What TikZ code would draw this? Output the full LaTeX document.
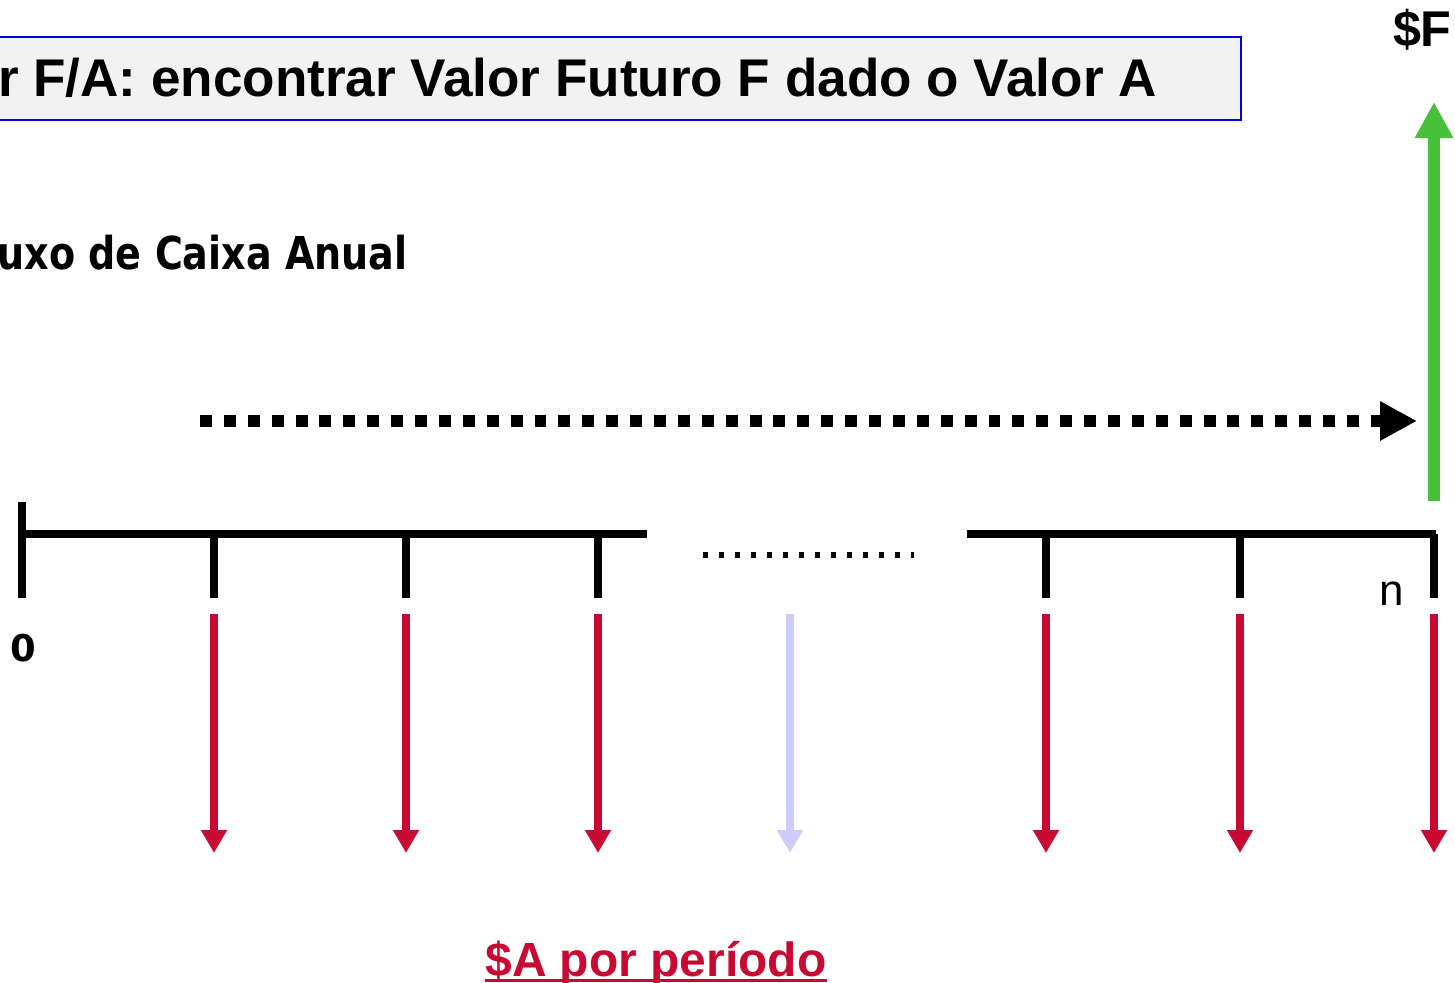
\documentclass[tikz,border=0pt]{standalone}
\usepackage{fontspec}
\usetikzlibrary{arrows.meta, positioning}
\newfontfamily\lsans{Liberation Sans}
\newfontfamily\dvsans{DejaVu Sans}
\newfontfamily\dvcond{DejaVu Sans}[FakeStretch=0.84]
\definecolor{payred}{RGB}{200,10,50}
\definecolor{paylight}{RGB}{204,204,255}
\definecolor{futgreen}{RGB}{72,192,58}
\definecolor{boxblue}{RGB}{0,0,225}
\definecolor{boxgray}{RGB}{242,242,242}
\tikzset{
	axisline/.style={line width=4.5pt},
	tickline/.style={line width=4pt},
	pay/.style={payred, line width=4.2pt, -{Triangle[length=13pt,width=14pt]}},
	paylt/.style={pay, paylight},
	label/.style={inner sep=0pt, text=black},
}

\begin{document}
\begin{tikzpicture}[x=0.02cm, y=-0.02cm]
	     \useasboundingbox (0,0) rectangle (1455,983);
	     \clip (0,0) rectangle (1455,983);

	     % title %
		 \draw[boxblue, fill=boxgray, line width=1.2pt] (-20,37) rectangle (1241,120);
		 \node[label, anchor=base east, font=\lsans\bfseries\fontsize{30.2}{33}\selectfont] (title) at (1157,97) {r F/A: encontrar Valor Futuro F dado o Valor A};
		 \node[label, anchor=base east, font=\dvcond\bfseries\fontsize{25.8}{30}\selectfont] (flux) at (408,270) {uxo de Caixa Anual};

	     % nodes %
		 \coordinate (o) at (22,534);
		 \coordinate (otop) at (22,502);
		 \coordinate (obot) at (22,598);
		 \coordinate (lend) at (647,534);
		 \coordinate (rstart) at (967,534);
		 \coordinate (rend) at (1436,534);
		 \coordinate (t1) at (214,534);
		 \coordinate (t2) at (406,534);
		 \coordinate (t3) at (598,534);
		 \coordinate (t4) at (1046,534);
		 \coordinate (t5) at (1240,534);
		 \coordinate (t6) at (1434,534);
		 \node[label, font=\dvsans\bfseries\fontsize{21}{24}\selectfont] (zero) at (23,648) {0};
		 \node[label, font=\lsans\fontsize{25}{28}\selectfont] (n) at (1392,594) {n};
		 \node[label, anchor=base east, font=\lsans\bfseries\fontsize{28.6}{32}\selectfont] (fval) at (1452,47) {\$F};
		 \node[label, anchor=base west, font=\lsans\bfseries\fontsize{27.3}{32}\selectfont, text=payred] (aval) at (485,976) {\$A por período};
		 %\node[below of = aval, node distance=1cm] (aval2) {};
		 \coordinate (dots1) at (703,555);
		 \coordinate (dots2) at (914,555);
		 \coordinate (gobot) at (200,421);
		 \coordinate (gotip) at (1417,421);
		 \coordinate (fbot) at (1434,501);
		 \coordinate (ftop) at (1434,102);

	     % edges %
		 \draw[tickline] (otop) -- (obot);
		 \draw[axisline] (o) -- (lend);
		 \draw[axisline] (rstart) -- (rend);
		 \draw[tickline] (t1) -- ++(0,64);
		 \draw[tickline] (t2) -- ++(0,64);
		 \draw[tickline] (t3) -- ++(0,64);
		 \draw[tickline] (t4) -- ++(0,64);
		 \draw[tickline] (t5) -- ++(0,64);
		 \draw[tickline] (t6) -- ++(0,64);
		 \draw[line width=3.5pt, dash pattern=on 2.8pt off 6.3pt] (dots1) -- (dots2);
		 \draw[line width=6.8pt, dash pattern=on 6.8pt off 6.8pt, -{Triangle[length=21pt,width=21pt]}] (gobot) -- (gotip);
		 \draw[futgreen, line width=7.1pt, -{Triangle[length=20.5pt,width=20.5pt]}] (fbot) -- (ftop);
		 \draw[pay] (214,614) -- (214,853);
		 \draw[pay] (406,614) -- (406,853);
		 \draw[pay] (598,614) -- (598,853);
		 \draw[paylt] (790,614) -- (790,853);
		 \draw[pay] (1046,614) -- (1046,853);
		 \draw[pay] (1240,614) -- (1240,853);
		 \draw[pay] (1434,614) -- (1434,853);
		 \draw[payred, line width=1.7pt] ([yshift=-2.4pt]aval.base west) -- ([yshift=-2.4pt]aval.base east);
	     \end{tikzpicture}
\end{document}
